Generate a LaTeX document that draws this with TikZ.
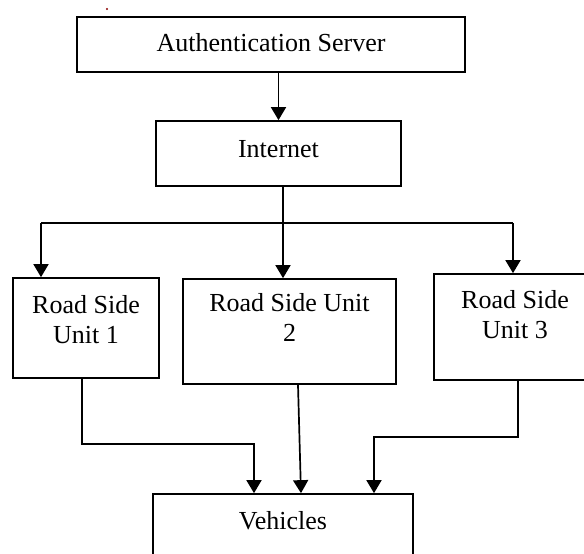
\documentclass[tikz,border=0pt]{standalone}
\usepackage{fontspec}
\setmainfont{Liberation Serif}
\usetikzlibrary{arrows.meta,calc}
\begin{document}
\begin{tikzpicture}[x=1pt,y=-1pt,
  box/.style={draw,line width=1.7pt,rectangle,inner sep=0pt},
  txt/.style={font=\fontsize{26}{30}\selectfont,align=center,inner sep=0pt,anchor=north},
  conn/.style={line width=1.7pt},
  arr/.style={conn,-{Triangle[width=15pt,length=13pt]}}]
\clip (0,0) rectangle (584,554);
\fill[white] (0,0) rectangle (584,554);
% boxes
\node[box,minimum width=388pt,minimum height=55pt,
  label={[txt,yshift=-17pt]north:Authentication Server}] (as) at (271,44.5) {};
\node[box,minimum width=245pt,minimum height=65pt,
  label={[txt,yshift=-20pt]north:Internet}] (int) at (278.5,153.5) {};
\node[box,minimum width=146pt,minimum height=100pt,
  label={[txt,yshift=-18pt]north:Road Side\\Unit 1}] (rsu1) at (86,328) {};
\node[box,minimum width=213pt,minimum height=105pt,
  label={[txt,yshift=-15pt]north:Road Side Unit\\2}] (rsu2) at (289.5,331.5) {};
\node[box,minimum width=162pt,minimum height=106pt,
  label={[txt,yshift=-17pt]north:Road Side\\Unit 3}] (rsu3) at (515,327) {};
\node[box,minimum width=260pt,minimum height=86pt,
  label={[txt,yshift=-18pt]north:Vehicles}] (veh) at (283,537) {};
% stray dot
\fill[red!55!black] (107,9) circle (1.2pt);
% connectors
\draw[arr] (as.south -| int.north) -- (int.north);
\coordinate (hl) at (41,223);
\coordinate (hr) at (513,223);
\draw[conn] (hl) -- (hr);
\draw[arr] (hl) -- (hl |- rsu1.north);
\draw[arr] (hr) -- (hr |- rsu3.north);
\draw[arr] ([xshift=4.5pt]int.south) -- ([xshift=4.5pt]int.south |- rsu2.north);
\draw[arr] ([xshift=-4pt]rsu1.south) -- ++(0,65) -| ([xshift=-29pt]veh.north);
\draw[arr] ([xshift=8.5pt]rsu2.south) -- ([xshift=18pt]veh.north);
\draw[arr] ([xshift=3pt]rsu3.south) -- ++(0,56) -| ([xshift=91pt]veh.north);
\end{tikzpicture}
\end{document}
